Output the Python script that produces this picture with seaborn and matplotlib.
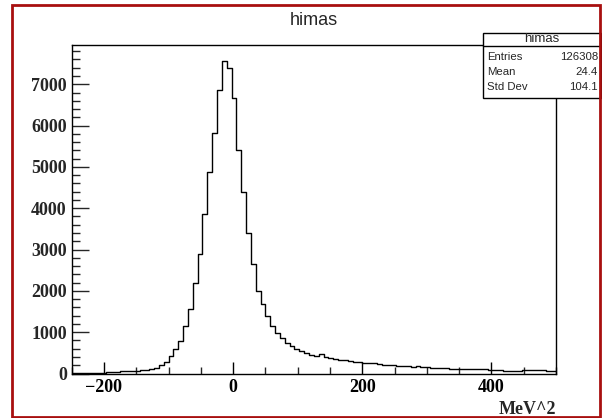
import numpy as np
import pandas as pd
import seaborn as sns
import matplotlib
matplotlib.use("Agg")
import matplotlib.pyplot as plt
from matplotlib.patches import Rectangle
from matplotlib.lines import Line2D
from matplotlib.ticker import MultipleLocator

# ---- data ----
x_min, x_max, n_bins = -250.0, 500.0, 100
counts = [
    10, 12, 15, 14, 18, 20, 22, 28, 35, 42,
    50, 58, 62, 70, 75, 90, 115, 135, 206, 286,
    424, 586, 794, 1157, 1562, 2200, 2886, 3862, 4880, 5820,
    6865, 7574, 7404, 6670, 5410, 4400, 3410, 2650, 2005, 1683,
    1400, 1157, 988, 852, 746, 660, 595, 545, 505, 450,
    420, 460, 400, 370, 340, 330, 320, 300, 285, 280,
    260, 250, 245, 235, 210, 200, 205, 190, 175, 170,
    165, 170, 160, 155, 135, 130, 125, 130, 120, 115,
    110, 112, 105, 108, 110, 100, 90, 85, 80, 70,
    68, 70, 72, 85, 88, 85, 80, 82, 70, 65,
]
hist_name = "himas"
x_label = "MeV^2"
stat_labels = ["Entries", "Mean", "Std Dev"]
stat_values = ["126308", "24.4", "104.1"]
x_ticks = [-200, 0, 200, 400]
y_ticks = [0, 1000, 2000, 3000, 4000, 5000, 6000, 7000]

bin_w = (x_max - x_min) / n_bins
centers = x_min + bin_w * (np.arange(n_bins) + 0.5)
df = pd.DataFrame({"x": centers, "w": counts})

# ---- figure ----
W, H = 602, 418
sns.set_style("white")
plt.rcParams["font.family"] = ["Liberation Sans", "DejaVu Sans"]
fig = plt.figure(figsize=(W / 100, H / 100), dpi=100)

def fx(px):
    return px / W

def fy(py):
    return 1 - py / H

left, right, top, bottom = 71.7, 556.0, 45.0, 373.5
ax = fig.add_axes([fx(left), fy(bottom), fx(right) - fx(left), fy(top) - fy(bottom)])

sns.histplot(data=df, x="x", weights="w", binwidth=bin_w, binrange=(x_min, x_max),
             element="step", fill=False, color="black", linewidth=1.0, ax=ax)

ax.set_xlim(x_min, x_max)
ax.set_ylim(0, 7950)
ax.set_xlabel("")
ax.set_ylabel("")
ax.set_xticks(x_ticks)
ax.set_yticks(y_ticks)
ax.xaxis.set_minor_locator(MultipleLocator(50))
ax.yaxis.set_minor_locator(MultipleLocator(200))
ax.tick_params(axis="x", which="major", direction="in", length=9, width=1, pad=4,
               top=False, bottom=True, colors="black")
ax.tick_params(axis="x", which="minor", direction="in", length=5, width=1, top=False, bottom=True)
ax.tick_params(axis="y", which="major", direction="in", length=12, width=1, pad=3.5,
               left=True, right=False)
ax.tick_params(axis="y", which="minor", direction="in", length=6, width=1, left=True, right=False)
for lab in ax.get_xticklabels() + ax.get_yticklabels():
    lab.set_fontfamily("Liberation Serif")
    lab.set_fontweight("bold")
    lab.set_fontsize(13)
for sp in ax.spines.values():
    sp.set_visible(True)
    sp.set_color("black")
    sp.set_linewidth(1.0)

# x-axis title, right-aligned at frame end
fig.text(fx(556), fy(414), x_label, ha="right", va="baseline",
         fontfamily="Liberation Serif", fontweight="bold", fontsize=13)

# histogram title
fig.text(fx(314), fy(25), hist_name, ha="center", va="baseline", fontsize=13)

# stats box
bx0, bx1, by0, by1 = 483.3, 601.0, 33.3, 97.5
fig.add_artist(Rectangle((fx(bx0), fy(by1)), fx(bx1) - fx(bx0), fy(by0) - fy(by1),
                         transform=fig.transFigure, facecolor="white",
                         edgecolor="black", linewidth=1.0, zorder=5))
fig.add_artist(Line2D([fx(bx0), fx(bx1)], [fy(45.5), fy(45.5)],
                      transform=fig.transFigure, color="black", linewidth=1.0, zorder=6))
fig.text(fx((bx0 + bx1) / 2), fy(39.5), hist_name, ha="center", va="center",
         fontsize=9.5, zorder=7)
row_y = [56.7, 72.0, 87.3]
for lab, val, yy in zip(stat_labels, stat_values, row_y):
    fig.text(fx(487), fy(yy), lab, ha="left", va="center", fontsize=8.2, zorder=7)
    fig.text(fx(598), fy(yy), val, ha="right", va="center", fontsize=8.2, zorder=7)

# red canvas border
fig.add_artist(Rectangle((fx(11.7), fy(417)), fx(600) - fx(11.7), fy(5) - fy(417),
                         transform=fig.transFigure, facecolor="none",
                         edgecolor="#a80f0f", linewidth=2.0, zorder=10))

fig.savefig("out.png", dpi=100)
